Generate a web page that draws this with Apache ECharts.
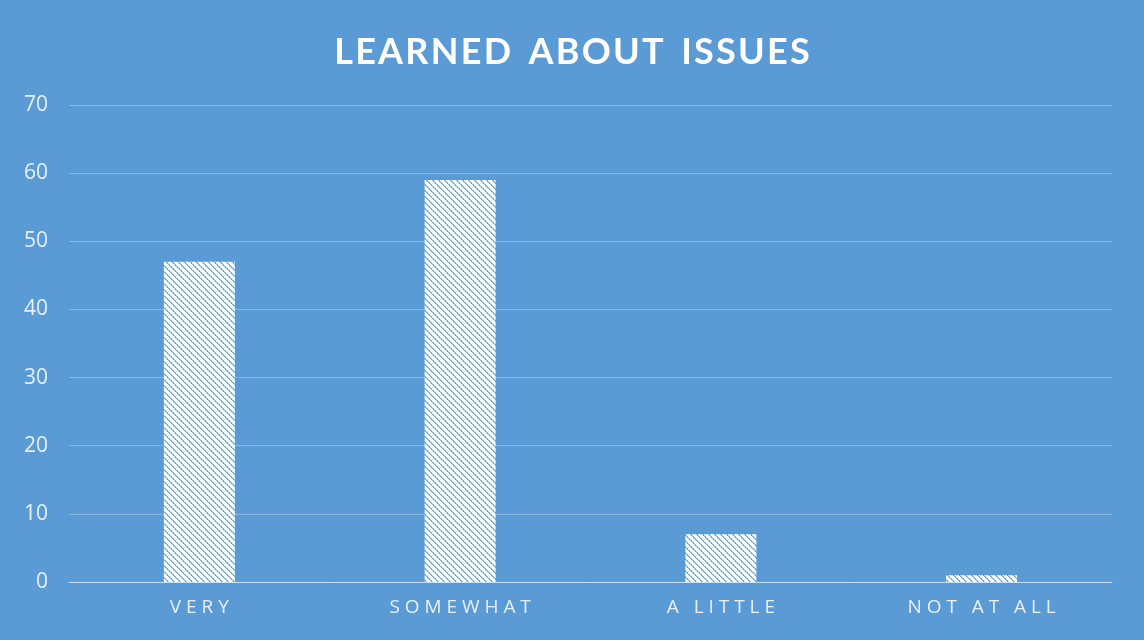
<!DOCTYPE html>
<html>
<head>
<meta charset="utf-8">
<script src="https://cdn.jsdelivr.net/npm/echarts@6/dist/echarts.min.js"></script>
<style>
  html, body { margin: 0; padding: 0; background: #5B9BD5; }
  #chart { width: 1144px; height: 640px; }
</style>
</head>
<body>
<div id="chart"></div>
<script>
// Survey answers: how much respondents learned about the issues
const categories = ['VERY', 'SOMEWHAT', 'A LITTLE', 'NOT AT ALL'];
const responses = [47, 59, 7, 1];
const yTicks = [0, 10, 20, 30, 40, 50, 60, 70];

const chartTitle = 'LEARNED ABOUT ISSUES';

// Spread letters apart (tracked capitals)
function track(s, gap, wordGap) {
  return s.split(' ').map(w => w.split('').join(gap)).join(wordGap);
}

// Diagonal hatch fill for the bars: dotted blue strokes on white
function hatchPattern() {
  const n = 6;
  const c = document.createElement('canvas');
  c.width = n; c.height = n;
  const ctx = c.getContext('2d');
  ctx.fillStyle = '#ffffff';
  ctx.fillRect(0, 0, n, n);
  for (let i = 0; i < n; i++) {
    ctx.fillStyle = i % 2 ? 'rgba(91,155,213,1)' : 'rgba(91,155,213,0.75)';
    ctx.fillRect(i, i, 1, 1);
    ctx.fillStyle = i % 2 ? 'rgba(91,155,213,0.45)' : 'rgba(91,155,213,0.7)';
    ctx.fillRect((i + 1) % n, i, 1, 1);
  }
  return c;
}

const chart = echarts.init(document.getElementById('chart'), null, { renderer: 'canvas' });

chart.setOption({
  backgroundColor: '#5B9BD5',
  animation: false,
  title: {
    text: track(chartTitle, '\u200A', '  '),
    left: 'center',
    top: 29,
    textStyle: {
      color: '#ffffff',
      fontFamily: 'Lato',
      fontWeight: 'bold',
      fontSize: 36
    }
  },
  grid: { left: 69, right: 32, top: 105, bottom: 58 },
  xAxis: {
    type: 'category',
    data: categories,
    axisLine: { show: true, lineStyle: { color: 'rgba(255,255,255,0.55)', width: 1 } },
    axisTick: { show: false },
    axisLabel: {
      color: '#e8f0f9',
      fontFamily: 'Open Sans',
      fontSize: 19,
      margin: 16,
      formatter: v => track(v, ' ', '   ')
    }
  },
  yAxis: {
    type: 'value',
    min: yTicks[0],
    max: yTicks[yTicks.length - 1],
    interval: 10,
    axisLine: { show: false },
    axisTick: { show: false },
    splitLine: { lineStyle: { color: 'rgba(255,255,255,0.28)', width: 1 } },
    axisLabel: {
      color: '#e8f0f9',
      fontFamily: 'Open Sans',
      fontSize: 21,
      margin: 21
    }
  },
  series: [{
    type: 'bar',
    data: responses,
    barWidth: 71,
    itemStyle: {
      color: { image: hatchPattern(), repeat: 'repeat' }
    }
  }]
});
</script>
</body>
</html>
